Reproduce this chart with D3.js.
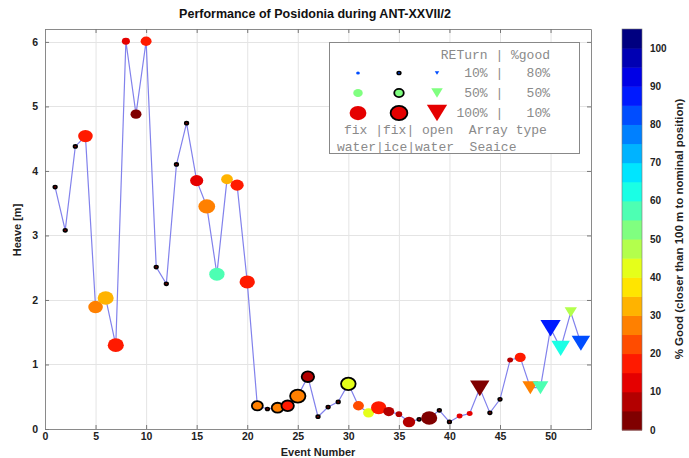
<!DOCTYPE html>
<html><head><meta charset="utf-8">
<script src="https://cdnjs.cloudflare.com/ajax/libs/d3/7.8.5/d3.min.js"></script>
<style>body{margin:0;background:#fff}svg{display:block}</style>
</head><body>
<svg id="c" width="689" height="458"></svg>
<script>
// ---- data ----
const events = d3.range(1, 54);
const heave = [3.75,3.08,4.38,4.54,1.89,2.03,1.30,6.01,4.88,6.01,
               2.51,2.25,4.10,4.74,3.85,3.45,2.40,3.87,3.78,2.28,
               0.36,0.31,0.33,0.36,0.51,0.81,0.19,0.34,0.42,0.70,
               0.36,0.25,0.33,0.27,0.23,0.11,0.15,0.17,0.29,0.11,
               0.20,0.24,0.63,0.25,0.46,1.07,1.11,0.64,0.64,1.56,
               1.25,1.81,1.33];
const goodPct = [0,0,0,15,28,31,15,12,3,15,
                 0,0,0,0,12,27,58,32,15,17,
                 27,0,27,18,28,5,0,0,0,43,
                 22,40,17,7,8,5,0,4,0,0,
                 10,10,3,0,0,8,18,27,58,88,
                 63,45,82];
const returnPct = [10,10,10,85,85,95,95,40,60,60,
                   10,10,10,10,75,100,90,65,75,90,
                   60,10,65,70,90,70,10,10,10,85,
                   60,60,90,60,30,70,10,95,10,10,
                   25,25,95,10,10,25,60,75,75,100,
                   90,55,90];
// w = fix water, i = fix ice, o = open water
const arrayType = ["i","i","i","w","w","w","w","w","w","w",
                   "i","i","i","i","w","w","w","w","w","w",
                   "i","i","i","i","i","i","i","i","i","i",
                   "w","w","w","w","w","w","i","w","i","i",
                   "w","w","o","i","i","w","w","o","o","o",
                   "o","o","o"];
const xTicks = [0,5,10,15,20,25,30,35,40,45,50];
const yTicks = [0,1,2,3,4,5,6];
const cbTicks = [0,10,20,30,40,50,60,70,80,90,100];
const legendReturn = [10,50,100];
const legendGood = [80,50,10];

// ---- helpers ----
const svg = d3.select("#c");
const X0=45, X1=591, Y0=429, Y1=29;
const x = d3.scaleLinear().domain([0,54]).range([X0,X1]);
const y = d3.scaleLinear().domain([0,6.2]).range([Y0,Y1]);
const size = d3.scaleLinear().domain([0,100]).range([2,15]);
const nBands = 21;
function jet(t){
  const c = v => Math.max(0, Math.min(1, v));
  return d3.rgb(255*c(1.5-Math.abs(4*t-3)), 255*c(1.5-Math.abs(4*t-2)), 255*c(1.5-Math.abs(4*t-1)));
}
function bandColor(k){ return jet((nBands-1-k)/(nBands-1)).formatHex(); }
function goodColor(v){ return bandColor(Math.min(nBands-1, Math.floor(v/5))); }

const fontS = "Liberation Sans, Arial, sans-serif";

// grid
const grid = svg.append("g").attr("stroke","#e4e4e4").attr("stroke-width",1);
xTicks.slice(1).forEach(t=>grid.append("line").attr("x1",x(t)+0.5).attr("x2",x(t)+0.5).attr("y1",Y1).attr("y2",Y0));
yTicks.slice(1).forEach(t=>grid.append("line").attr("y1",Math.round(y(t))+0.5).attr("y2",Math.round(y(t))+0.5).attr("x1",X0).attr("x2",X1));

// axes
function styleAxis(g, labels){
  g.selectAll("path").attr("stroke","#8a8a8a");
  g.selectAll("line").attr("stroke","#777");
  g.selectAll("text").attr("font-family",fontS).attr("font-size",10.5).attr("font-weight","bold").attr("fill","#222");
  if(!labels) g.selectAll("text").remove();
}
svg.append("g").attr("transform",`translate(0,${Y0})`)
  .call(d3.axisBottom(x).tickValues(xTicks).tickFormat(d3.format("d")).tickSize(-4).tickSizeOuter(0).tickPadding(4)).call(g=>styleAxis(g,true));
svg.append("g").attr("transform",`translate(0,${Y1})`)
  .call(d3.axisTop(x).tickValues(xTicks).tickSize(-4).tickSizeOuter(0)).call(g=>styleAxis(g,false));
svg.append("g").attr("transform",`translate(${X0},0)`)
  .call(d3.axisLeft(y).tickValues(yTicks).tickFormat(d3.format("d")).tickSize(-4).tickSizeOuter(0).tickPadding(7)).call(g=>styleAxis(g,true));
svg.append("g").attr("transform",`translate(${X1},0)`)
  .call(d3.axisRight(y).tickValues(yTicks).tickSize(-4).tickSizeOuter(0)).call(g=>styleAxis(g,false));

// line
const pts = events.map((e,i)=>({e, h:heave[i], g:goodPct[i], r:returnPct[i], t:arrayType[i]}));
svg.append("path").datum(pts)
  .attr("d", d3.line().x(d=>x(d.e)).y(d=>y(d.h)))
  .attr("fill","none").attr("stroke","#8282ec").attr("stroke-width",1.2);

// markers
function drawMarker(g, cx, cy, d, type, color){
  if(type==="o"){
    const w = d*1.35, h = d*1.1;
    g.append("path").attr("d",`M${cx-w/2},${cy-h/2}L${cx+w/2},${cy-h/2}L${cx},${cy+h/2}Z`).attr("fill",color);
  } else {
    const c = g.append("ellipse").attr("cx",cx).attr("cy",cy).attr("rx",d/2*1.12).attr("ry",d/2*0.95).attr("fill",color);
    if(type==="i") c.attr("stroke","#000").attr("stroke-width", d<6 ? 1.6 : 1.8);
  }
}
const mg = svg.append("g");
pts.forEach(p=>drawMarker(mg, x(p.e), y(p.h), size(p.r), p.t, goodColor(p.g)));

// legend
const lg = svg.append("g");
lg.append("rect").attr("x",329.5).attr("y",42.5).attr("width",250).attr("height",111)
  .attr("fill","#fff").attr("stroke","#888");
const mono = "Liberation Mono, Courier New, monospace";
function ltext(str, tx, ty, anchor){
  lg.append("text").attr("x",tx).attr("y",ty).attr("text-anchor",anchor||"start")
    .attr("font-family",mono).attr("font-size",13).attr("fill","#8a8a8a")
    .style("white-space","pre").text(str);
}
ltext("RETurn | %good", 550, 59, "end");
const colX = [358,399,437], rowY = [73,93,113];
legendReturn.forEach((r,i)=>{
  const col = goodColor(legendGood[i]);
  drawMarker(lg, colX[0], rowY[i], size(r), "w", col);
  drawMarker(lg, colX[1], rowY[i], size(r), "i", col);
  drawMarker(lg, colX[2], rowY[i], size(r), "o", col);
  const rs = (r<100?" ":"")+r+"% |   "+legendGood[i]+"%";
  ltext(rs, 550, rowY[i]+4, "end");
});
ltext("fix |fix| open  Array type", 344, 134);
ltext("water|ice|water  Seaice", 337, 151);

// colorbar
const cy = d3.scaleLinear().domain([0,105]).range([430,29]);
const cb = svg.append("g");
d3.range(nBands).forEach(k=>{
  cb.append("rect").attr("x",622).attr("width",20)
    .attr("y",cy(5*k+5)).attr("height",cy(5*k)-cy(5*k+5)+0.5).attr("fill",bandColor(k));
});
cb.append("rect").attr("x",622).attr("y",cy(105)).attr("width",20).attr("height",cy(0)-cy(105))
  .attr("fill","none").attr("stroke","#777").attr("stroke-width",0.6);
cbTicks.forEach(t=>{
  cb.append("text").attr("x",650).attr("y",cy(t)+3.5).attr("font-family",fontS).attr("font-size",10)
    .attr("font-weight","bold").attr("fill","#222").text(t);
});
svg.append("text").attr("transform","translate(683,229) rotate(-90)").attr("text-anchor","middle")
  .attr("font-family",fontS).attr("font-size",11.5).attr("font-weight","bold").attr("fill","#222")
  .text("% Good (closer than 100 m to nominal position)");

// titles
svg.append("text").attr("x",315).attr("y",18).attr("text-anchor","middle")
  .attr("font-family",fontS).attr("font-size",12.5).attr("font-weight","bold").attr("fill","#111")
  .text("Performance of Posidonia during ANT-XXVII/2");
svg.append("text").attr("x",318).attr("y",455.5).attr("text-anchor","middle")
  .attr("font-family",fontS).attr("font-size",11).attr("font-weight","bold").attr("fill","#222")
  .text("Event Number");
svg.append("text").attr("transform","translate(21,230) rotate(-90)").attr("text-anchor","middle")
  .attr("font-family",fontS).attr("font-size",11).attr("font-weight","bold").attr("fill","#222")
  .text("Heave [m]");
</script>
</body></html>
